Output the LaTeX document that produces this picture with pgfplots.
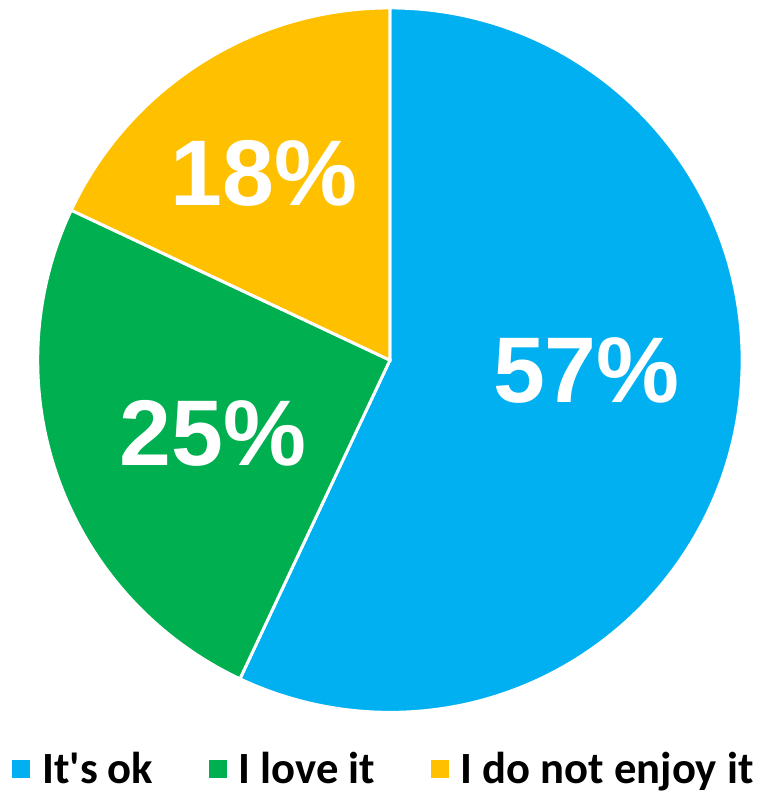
\documentclass[border=0pt]{standalone}
\usepackage{fontspec}
\setmainfont{Liberation Sans}
\newfontfamily\legfont{Carlito}
\usepackage{pgfplots}
\pgfplotsset{compat=1.18}
\definecolor{cblue}{HTML}{00B0F0}
\definecolor{cgreen}{HTML}{00B050}
\definecolor{cyellow}{HTML}{FFC000}
\begin{document}
\begin{tikzpicture}
\begin{axis}[
  scale only axis, width=387pt, height=397pt,
  xmin=0, xmax=774, ymin=0, ymax=794,
  hide axis, clip=false,
  legend columns=3,
  legend style={at={(axis cs:388,19)}, anchor=center, draw=none, fill=none,
    font=\legfont\bfseries\fontsize{22.5}{24}\selectfont,
    /tikz/every even column/.append style={column sep=26pt},
    legend cell align=left},
  legend image code/.code={\fill[#1, draw=none] (0pt,-4.5pt) rectangle (9pt,4.5pt); \path[draw=none, fill=none] (0pt,0pt) -- (13pt,0pt);},
]
\path (axis cs:0,0) rectangle (axis cs:774,794);
% values: It's ok 57, I love it 25, I do not enjoy it 18 (percent)
\fill[cblue, draw=white, line width=1.5pt] (axis cs:393,431) -- ++(90:177.5pt)
  arc[start angle=90, end angle={90-57*3.6}, radius=177.5pt] -- cycle;
\fill[cgreen, draw=white, line width=1.5pt] (axis cs:393,431) -- ++({90-57*3.6}:177.5pt)
  arc[start angle={90-57*3.6}, end angle={90-82*3.6}, radius=177.5pt] -- cycle;
\fill[cyellow, draw=white, line width=1.5pt] (axis cs:393,431) -- ++({90-82*3.6}:177.5pt)
  arc[start angle={90-82*3.6}, end angle={90-100*3.6}, radius=177.5pt] -- cycle;
\node[text=white, font=\bfseries\fontsize{47}{49}\selectfont] at (axis cs:591,421) {57\%};
\node[text=white, font=\bfseries\fontsize{47}{49}\selectfont] at (axis cs:215,357) {25\%};
\node[text=white, font=\bfseries\fontsize{47}{49}\selectfont] at (axis cs:266,619) {18\%};
\addlegendimage{cblue}
\addlegendentry{It's ok}
\addlegendimage{cgreen}
\addlegendentry{I love it}
\addlegendimage{cyellow}
\addlegendentry{I do not enjoy it}
\end{axis}
\end{tikzpicture}
\end{document}
